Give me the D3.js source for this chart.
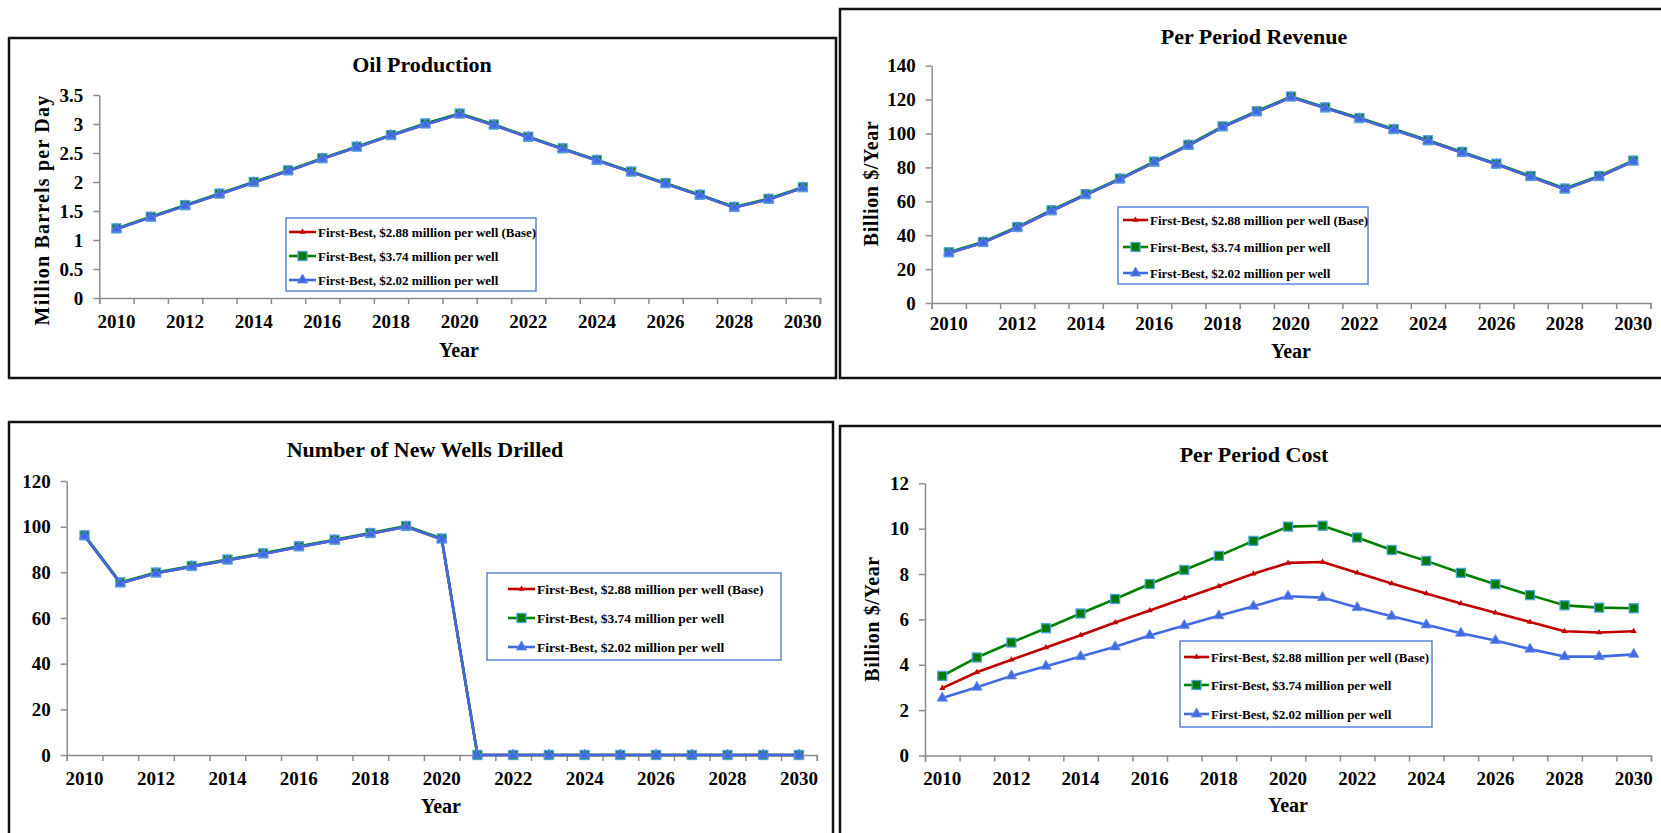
<!DOCTYPE html>
<html>
<head>
<meta charset="utf-8">
<title>First-Best scenarios</title>
<script src="https://d3js.org/d3.v7.min.js"></script>
<style>
    body { margin: 0; background: #fff; }
    text { font-family: "Liberation Serif", "Times New Roman", serif; font-weight: bold; fill: #000; }
</style>
</head>
<body>
<svg width="1661" height="833"></svg>
<script>
    // categories
    var years = [2010, 2011, 2012, 2013, 2014, 2015, 2016, 2017, 2018, 2019, 2020,
                 2021, 2022, 2023, 2024, 2025, 2026, 2027, 2028, 2029, 2030];
    var yearLabels = [2010, 2012, 2014, 2016, 2018, 2020, 2022, 2024, 2026, 2028, 2030];

    var seriesNames = ["First-Best, $2.88 million per well (Base)",
                       "First-Best, $3.74 million per well",
                       "First-Best, $2.02 million per well"];

    // oil production, million barrels per day
    var oilBase = [1.19, 1.39, 1.59, 1.79, 1.99, 2.19, 2.40, 2.60, 2.80, 2.99, 3.17, 2.98, 2.77, 2.57, 2.37, 2.17, 1.97, 1.77, 1.56, 1.70, 1.90];
    var oilHigh = [1.20, 1.40, 1.60, 1.80, 2.00, 2.20, 2.41, 2.61, 2.81, 3.01, 3.18, 2.99, 2.78, 2.58, 2.38, 2.18, 1.98, 1.78, 1.57, 1.71, 1.91];
    var oilLow  = [1.19, 1.39, 1.59, 1.79, 1.99, 2.19, 2.40, 2.60, 2.80, 2.99, 3.17, 2.98, 2.77, 2.57, 2.37, 2.17, 1.97, 1.77, 1.56, 1.70, 1.90];
    var oilTicks = [0, 0.5, 1, 1.5, 2, 2.5, 3, 3.5];

    // revenue, billion $/year
    var revBase = [29.5, 35.6, 44.4, 54.3, 63.8, 73.0, 83.0, 92.9, 103.8, 112.7, 121.4, 115.0, 108.7, 102.2, 95.6, 88.7, 81.8, 74.5, 67.1, 74.5, 83.6];
    var revHigh = [29.9, 36.0, 44.8, 54.7, 64.2, 73.4, 83.4, 93.3, 104.2, 113.1, 121.8, 115.4, 109.1, 102.6, 96.0, 89.1, 82.2, 74.9, 67.5, 74.9, 84.0];
    var revLow  = [29.5, 35.6, 44.4, 54.3, 63.8, 73.0, 83.0, 92.9, 103.8, 112.7, 121.4, 115.0, 108.7, 102.2, 95.6, 88.7, 81.8, 74.5, 67.1, 74.5, 83.6];
    var revTicks = [0, 20, 40, 60, 80, 100, 120, 140];

    // new wells drilled
    var wellsBase = [95.9, 75.2, 79.6, 82.5, 85.3, 88.0, 91.1, 94.0, 96.9, 100.0, 94.5, 0, 0, 0, 0, 0, 0, 0, 0, 0, 0];
    var wellsHigh = [96.2, 75.6, 79.9, 82.8, 85.6, 88.3, 91.4, 94.3, 97.2, 100.3, 94.8, 0, 0, 0, 0, 0, 0, 0, 0, 0, 0];
    var wellsLow  = [95.9, 75.2, 79.6, 82.5, 85.3, 88.0, 91.1, 94.0, 96.9, 100.0, 94.5, 0, 0, 0, 0, 0, 0, 0, 0, 0, 0];
    var wellsTicks = [0, 20, 40, 60, 80, 100, 120];

    // cost, billion $/year
    var costBase = [2.97, 3.67, 4.22, 4.76, 5.30, 5.86, 6.39, 6.93, 7.46, 8.01, 8.49, 8.53, 8.06, 7.58, 7.14, 6.70, 6.29, 5.89, 5.48, 5.42, 5.48];
    var costHigh = [3.51, 4.32, 4.98, 5.61, 6.26, 6.90, 7.56, 8.18, 8.80, 9.46, 10.09, 10.13, 9.61, 9.06, 8.58, 8.05, 7.55, 7.07, 6.62, 6.52, 6.49];
    var costLow  = [2.53, 3.01, 3.51, 3.94, 4.36, 4.79, 5.29, 5.73, 6.16, 6.58, 7.02, 6.96, 6.52, 6.14, 5.76, 5.39, 5.07, 4.69, 4.36, 4.36, 4.46];
    var costTicks = [0, 2, 4, 6, 8, 10, 12];

    var colors = ["#c00000", "#008000", "#4169e1"];
    var svg = d3.select("svg");

    var panels = [
        {title: "Oil Production", ylab: "Million Barrels per Day", data: [oilBase, oilHigh, oilLow], ticks: oilTicks,
         box: [9, 38, 836, 378], x0: 99.3, x1: 820, yTop: 95, yBot: 298, tx: 422, ty: 71.5, ylx: 49, yly: 210,
         yearx: 459, yeary: 357, pad: 11, leg: {x: 286, y: 218, w: 250, h: 73, rows: [14, 38, 62], lx: 3, lw: 27}, lfs: 13},
        {title: "Per Period Revenue", ylab: "Billion $/Year", data: [revBase, revHigh, revLow], ticks: revTicks,
         box: [840, 9, 1675, 378], x0: 931.7, x1: 1650.4, yTop: 65.7, yBot: 303, tx: 1254, ty: 43.5, ylx: 878, yly: 183.5,
         yearx: 1291, yeary: 358, pad: 8, leg: {x: 1118, y: 207, w: 250, h: 77, rows: [13, 40, 66], lx: 5, lw: 25}, lfs: 13},
        {title: "Number of New Wells Drilled", ylab: null, data: [wellsBase, wellsHigh, wellsLow], ticks: wellsTicks,
         box: [9, 422, 833, 850], x0: 66.7, x1: 816.8, yTop: 481, yBot: 755, tx: 425, ty: 456.5, ylx: 0, yly: 0,
         yearx: 441, yeary: 813, pad: 11, leg: {x: 487, y: 573, w: 294, h: 87, rows: [16, 45, 74], lx: 21, lw: 27}, lfs: 13.5},
        {title: "Per Period Cost", ylab: "Billion $/Year", data: [costBase, costHigh, costLow], ticks: costTicks,
         box: [840, 426, 1675, 850], x0: 925, x1: 1651, yTop: 483.3, yBot: 755.5, tx: 1254, ty: 461.5, ylx: 879, yly: 619,
         yearx: 1288, yeary: 811.7, pad: 10, leg: {x: 1180, y: 641, w: 252, h: 86, rows: [16, 44, 73], lx: 4, lw: 25}, lfs: 13}
    ];

    function marker(sel, i, cx, cy) {
        if (i == 1) {
            sel.append("rect")
                .attr("x", cx - 4.5).attr("y", cy - 4.5)
                .attr("width", 9).attr("height", 9)
                .attr("fill", "#007a00").attr("stroke", "#4aa3e0").attr("stroke-width", 1.3);
        } else {
            sel.append("path")
                .attr("d", d3.symbol(d3.symbolTriangle, i == 0 ? 16 : 48)())
                .attr("transform", "translate(" + cx + "," + cy + ")")
                .attr("fill", colors[i])
                .attr("stroke", i == 2 ? "#6f8ff0" : "none").attr("stroke-width", 0.8);
        }
    }

    panels.forEach(function (p) {
        var g = svg.append("g");

        // panel frame
        g.append("rect")
            .attr("x", p.box[0]).attr("y", p.box[1])
            .attr("width", p.box[2] - p.box[0]).attr("height", p.box[3] - p.box[1])
            .attr("fill", "none").attr("stroke", "#111").attr("stroke-width", 2.5);

        var x = d3.scaleBand().domain(years).range([p.x0, p.x1]);
        var y = d3.scaleLinear().domain([0, d3.max(p.ticks)]).range([p.yBot, p.yTop]);

        // y axis
        var yAxis = g.append("g")
            .attr("transform", "translate(" + p.x0 + ",0)")
            .call(d3.axisLeft(y).tickValues(p.ticks).tickFormat(d3.format("")).tickSize(6).tickSizeOuter(0).tickPadding(10));
        yAxis.attr("font-size", 19).attr("font-family", null);
        yAxis.selectAll("path,line").attr("stroke", "#8c8c8c").attr("stroke-width", 1.5);

        // x axis: tick marks on category borders, labels on every second year
        var xb = d3.scaleLinear().domain([0, years.length]).range([p.x0, p.x1]);
        var xTicks = g.append("g")
            .attr("transform", "translate(0," + p.yBot + ")")
            .call(d3.axisBottom(xb).ticks(years.length).tickFormat("").tickSize(6).tickSizeOuter(6));
        xTicks.selectAll("path,line").attr("stroke", "#8c8c8c").attr("stroke-width", 1.5);

        var xLab = g.append("g")
            .attr("transform", "translate(0," + p.yBot + ")")
            .call(d3.axisBottom(x).tickValues(yearLabels).tickSize(0).tickPadding(6 + p.pad));
        xLab.attr("font-size", 19).attr("font-family", null);
        xLab.select(".domain").remove();

        // series lines: base, high, low (low drawn last, on top)
        var line = d3.line()
            .x(function (d, i) { return x(years[i]) + x.bandwidth() / 2; })
            .y(function (d) { return y(d); });

        p.data.forEach(function (vals, k) {
            g.append("path")
                .datum(vals)
                .attr("d", line)
                .attr("fill", "none")
                .attr("stroke", colors[k])
                .attr("stroke-width", 2.6)
                .attr("stroke-linejoin", "round");
            var mg = g.append("g");
            vals.forEach(function (v, i) {
                marker(mg, k, x(years[i]) + x.bandwidth() / 2, y(v));
            });
        });

        // titles
        g.append("text")
            .attr("x", p.tx).attr("y", p.ty)
            .attr("text-anchor", "middle").attr("font-size", 22)
            .text(p.title);
        g.append("text")
            .attr("x", p.yearx).attr("y", p.yeary)
            .attr("text-anchor", "middle").attr("font-size", 20)
            .text("Year");
        if (p.ylab) {
            g.append("text")
                .attr("transform", "translate(" + p.ylx + "," + p.yly + ") rotate(-90)")
                .attr("text-anchor", "middle").attr("font-size", 20)
                .attr("letter-spacing", p.ylab.length > 15 ? 1.2 : 0.6)
                .text(p.ylab);
        }

        // legend
        var L = p.leg;
        var lg = g.append("g").attr("transform", "translate(" + L.x + "," + L.y + ")");
        lg.append("rect")
            .attr("width", L.w).attr("height", L.h)
            .attr("fill", "#fff").attr("stroke", "#5b84d6").attr("stroke-width", 1.5);
        seriesNames.forEach(function (name, k) {
            var ry = L.rows[k];
            lg.append("line")
                .attr("x1", L.lx).attr("x2", L.lx + L.lw)
                .attr("y1", ry).attr("y2", ry)
                .attr("stroke", colors[k]).attr("stroke-width", 2.6);
            marker(lg, k, L.lx + L.lw / 2, ry);
            lg.append("text")
                .attr("x", L.lx + L.lw + 2).attr("y", ry + 4.5)
                .attr("font-size", p.lfs)
                .text(name);
        });
    });
</script>
</body>
</html>
